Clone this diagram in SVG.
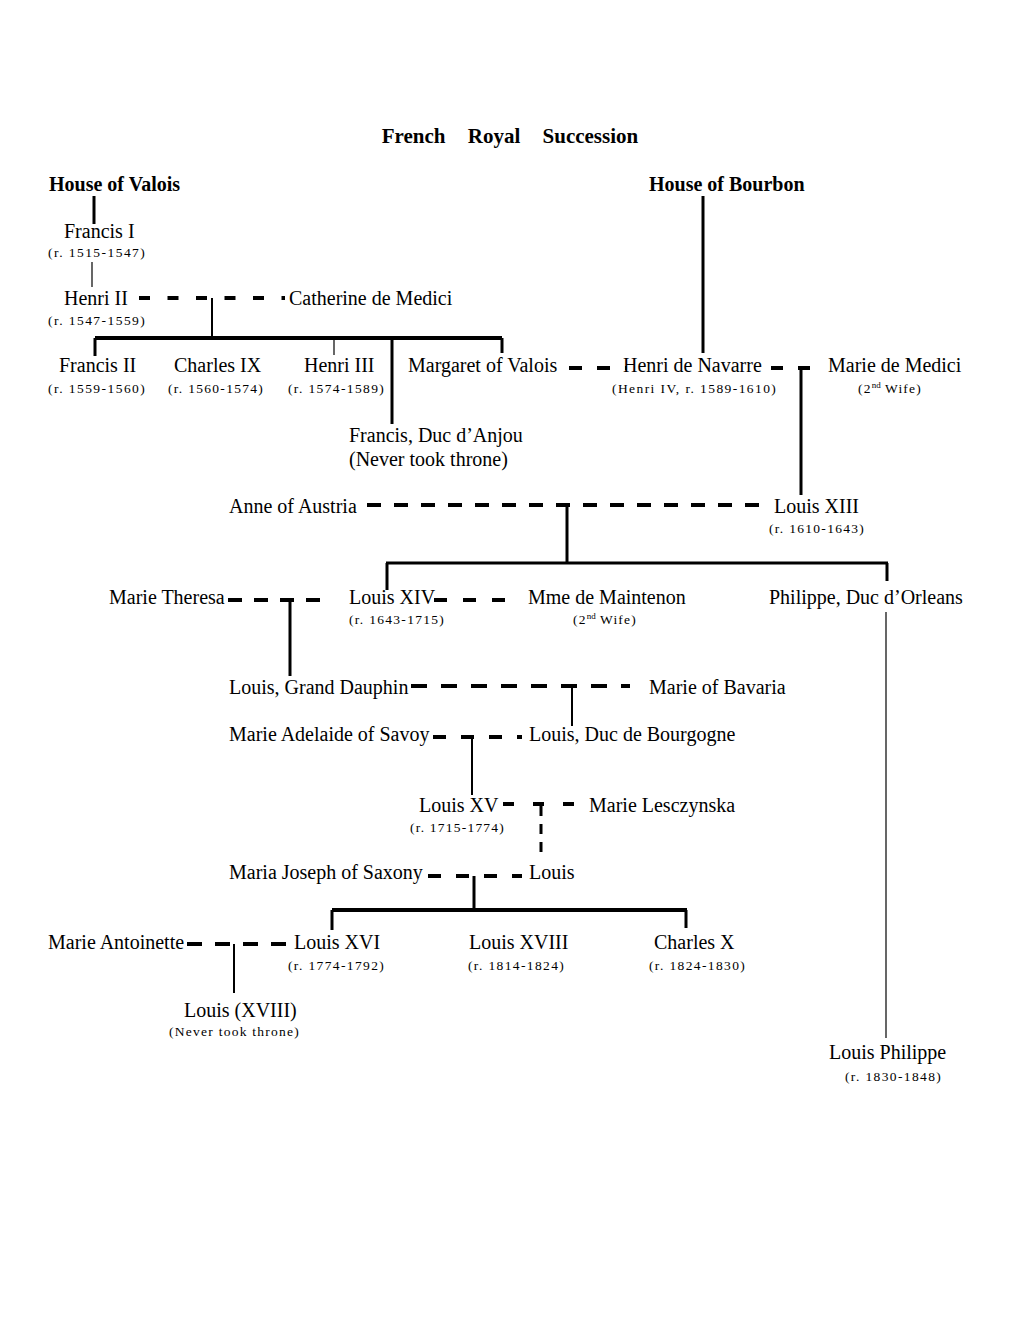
<svg xmlns="http://www.w3.org/2000/svg" width="1020" height="1320" viewBox="0 0 1020 1320">
<style>
text{font-family:"Liberation Serif","Times New Roman",serif;fill:#000}
.title{font-size:21px;font-weight:bold;word-spacing:17px}
.house{font-size:20px;font-weight:bold}
.n{font-size:20px}
.r{font-size:13.5px;letter-spacing:1.2px}
.sup{font-size:9px;letter-spacing:0}
line{stroke:#000;fill:none}
.thick{stroke-width:3}
.bar{stroke-width:4}
.thin{stroke-width:1.2}
.mid{stroke-width:2}
.dash{stroke-width:4}
</style>
<rect width="1020" height="1320" fill="#fff"/>
<text class="title" x="510" y="143" text-anchor="middle">French Royal Succession</text>

<g id="connectors">
<line class="thick" x1="94" y1="196" x2="94" y2="224"/>
<line class="thin" x1="92" y1="262" x2="92" y2="287"/>
<line class="dash" x1="139" y1="298" x2="285" y2="298" stroke-dasharray="11 17.5"/>
<line class="mid" x1="212" y1="298" x2="212" y2="338"/>
<line class="bar" x1="95" y1="338" x2="502" y2="338"/>
<line class="thick" x1="95" y1="338" x2="95" y2="356"/>
<line class="thin" x1="334" y1="338" x2="334" y2="355"/>
<line class="thick" x1="392" y1="338" x2="392" y2="424"/>
<line class="thick" x1="502" y1="338" x2="502" y2="353"/>
<line class="thick" x1="703" y1="196" x2="703" y2="353"/>
<line class="dash" x1="569" y1="368" x2="627" y2="368" stroke-dasharray="13 15"/>
<line class="dash" x1="771" y1="368" x2="811" y2="368" stroke-dasharray="12 15"/>
<line class="thick" x1="801" y1="367" x2="801" y2="495"/>
<line class="dash" x1="367" y1="505" x2="760" y2="505" stroke-dasharray="14 13"/>
<line class="thick" x1="567" y1="505" x2="567" y2="563"/>
<line class="thick" x1="386" y1="563" x2="888" y2="563"/>
<line class="thick" x1="387" y1="563" x2="387" y2="590"/>
<line class="thick" x1="887" y1="563" x2="887" y2="581"/>
<line class="dash" x1="228" y1="600" x2="324" y2="600" stroke-dasharray="14 12"/>
<line class="thick" x1="290" y1="600" x2="290" y2="676"/>
<line class="dash" x1="434" y1="600" x2="506" y2="600" stroke-dasharray="13 16"/>
<line class="thin" x1="886" y1="612" x2="886" y2="1038"/>
<line class="dash" x1="411" y1="686" x2="630" y2="686" stroke-dasharray="16 14"/>
<line class="mid" x1="572" y1="686" x2="572" y2="726"/>
<line class="dash" x1="433" y1="737" x2="522" y2="737" stroke-dasharray="13 15"/>
<line class="mid" x1="472" y1="737" x2="472" y2="795"/>
<line class="dash" x1="503" y1="804" x2="576" y2="804" stroke-dasharray="11 19"/>
<line class="thick" x1="541" y1="806" x2="541" y2="860" stroke-dasharray="10 8"/>
<line class="dash" x1="428" y1="876" x2="522" y2="876" stroke-dasharray="13 15"/>
<line class="thick" x1="474" y1="876" x2="474" y2="912"/>
<line class="bar" x1="332" y1="910" x2="687" y2="910"/>
<line class="thick" x1="332" y1="910" x2="332" y2="930"/>
<line class="thick" x1="686" y1="910" x2="686" y2="928"/>
<line class="dash" x1="187" y1="944" x2="287" y2="944" stroke-dasharray="15 13"/>
<line class="mid" x1="234" y1="944" x2="234" y2="993"/>
</g>

<g id="house-valois"><text class="house" x="49" y="191">House of Valois</text></g>
<g id="house-bourbon"><text class="house" x="649" y="191">House of Bourbon</text></g>
<g id="francis-i"><text class="n" x="64" y="238">Francis I</text><text class="r" x="48" y="257" textLength="98">(r. 1515-1547)</text></g>
<g id="henri-ii"><text class="n" x="64" y="305">Henri II</text><text class="r" x="48" y="325" textLength="98">(r. 1547-1559)</text></g>
<g id="catherine"><text class="n" x="289" y="305">Catherine de Medici</text></g>
<g id="francis-ii"><text class="n" x="59" y="372">Francis II</text><text class="r" x="48" y="393" textLength="98">(r. 1559-1560)</text></g>
<g id="charles-ix"><text class="n" x="174" y="372">Charles IX</text><text class="r" x="168" y="393" textLength="96">(r. 1560-1574)</text></g>
<g id="henri-iii"><text class="n" x="304" y="372">Henri III</text><text class="r" x="288" y="393" textLength="97">(r. 1574-1589)</text></g>
<g id="margaret"><text class="n" x="408" y="372">Margaret of Valois</text></g>
<g id="henri-navarre"><text class="n" x="623" y="372">Henri de Navarre</text><text class="r" x="612" y="393" textLength="165">(Henri IV, r. 1589-1610)</text></g>
<g id="marie-medici"><text class="n" x="828" y="372">Marie de Medici</text><text class="r" x="858" y="393">(2<tspan class="sup" dy="-5">nd</tspan><tspan dy="5"> Wife)</tspan></text></g>
<g id="francis-anjou"><text class="n" x="349" y="442">Francis, Duc d’Anjou</text><text class="n" x="349" y="466">(Never took throne)</text></g>
<g id="anne-austria"><text class="n" x="229" y="513">Anne of Austria</text></g>
<g id="louis-xiii"><text class="n" x="774" y="513">Louis XIII</text><text class="r" x="769" y="533" textLength="96">(r. 1610-1643)</text></g>
<g id="marie-theresa"><text class="n" x="109" y="604">Marie Theresa</text></g>
<g id="louis-xiv"><text class="n" x="349" y="604">Louis XIV</text><text class="r" x="349" y="624" textLength="96">(r. 1643-1715)</text></g>
<g id="maintenon"><text class="n" x="528" y="604">Mme de Maintenon</text><text class="r" x="573" y="624">(2<tspan class="sup" dy="-5">nd</tspan><tspan dy="5"> Wife)</tspan></text></g>
<g id="philippe-orleans"><text class="n" x="769" y="604">Philippe, Duc d’Orleans</text></g>
<g id="grand-dauphin"><text class="n" x="229" y="694">Louis, Grand Dauphin</text></g>
<g id="marie-bavaria"><text class="n" x="649" y="694">Marie of Bavaria</text></g>
<g id="marie-adelaide"><text class="n" x="229" y="741">Marie Adelaide of Savoy</text></g>
<g id="duc-bourgogne"><text class="n" x="529" y="741">Louis, Duc de Bourgogne</text></g>
<g id="louis-xv"><text class="n" x="419" y="812">Louis XV</text><text class="r" x="410" y="832" textLength="95">(r. 1715-1774)</text></g>
<g id="marie-lesczynska"><text class="n" x="589" y="812">Marie Lesczynska</text></g>
<g id="maria-joseph"><text class="n" x="229" y="879">Maria Joseph of Saxony</text></g>
<g id="louis-dauphin"><text class="n" x="529" y="879">Louis</text></g>
<g id="marie-antoinette"><text class="n" x="48" y="949">Marie Antoinette</text></g>
<g id="louis-xvi"><text class="n" x="294" y="949">Louis XVI</text><text class="r" x="288" y="970" textLength="97">(r. 1774-1792)</text></g>
<g id="louis-xviii"><text class="n" x="469" y="949">Louis XVIII</text><text class="r" x="468" y="970" textLength="97">(r. 1814-1824)</text></g>
<g id="charles-x"><text class="n" x="654" y="949">Charles X</text><text class="r" x="649" y="970" textLength="97">(r. 1824-1830)</text></g>
<g id="louis-xvii"><text class="n" x="184" y="1017">Louis (XVIII)</text><text class="r" x="169" y="1036" textLength="131">(Never took throne)</text></g>
<g id="louis-philippe"><text class="n" x="829" y="1059">Louis Philippe</text><text class="r" x="845" y="1081" textLength="97">(r. 1830-1848)</text></g>
</svg>
